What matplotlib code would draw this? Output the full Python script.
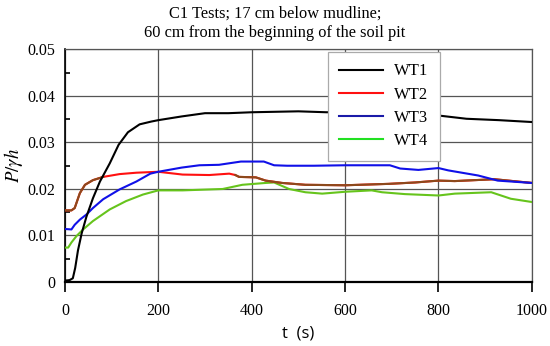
import numpy as np
import matplotlib
matplotlib.use("Agg")
import matplotlib.pyplot as plt
from matplotlib.lines import Line2D
from matplotlib.ticker import MultipleLocator

plt.rcParams["mathtext.fontset"] = "stix"

# data
t1 = [0, 10, 17, 22, 28, 36, 46, 60, 75, 96, 115, 135, 160, 185, 200, 250, 300,
      350, 400, 450, 500, 560, 650, 750, 800, 860, 930, 1000]
wt1 = [0.0003, 0.0004, 0.0008, 0.003, 0.0068, 0.0105, 0.014, 0.018, 0.0216,
       0.0255, 0.0295, 0.0322, 0.0339, 0.0345, 0.0348, 0.0356, 0.0363, 0.0363,
       0.0365, 0.0366, 0.0367, 0.0365, 0.0366, 0.0361, 0.0358, 0.0351, 0.0348, 0.0344]

t2 = [0, 14, 21, 32, 43, 60, 82, 117, 153, 200, 252, 309, 352, 365, 373, 409,
      430, 465, 515, 600, 693, 750, 800, 835, 920, 1000]
wt2 = [0.0154, 0.0154, 0.0159, 0.0191, 0.0209, 0.0219, 0.0226, 0.0232, 0.0235,
       0.0237, 0.0231, 0.0230, 0.0233, 0.0230, 0.0226, 0.0225, 0.0218, 0.0213,
       0.0209, 0.0208, 0.0211, 0.0214, 0.0218, 0.0217, 0.0221, 0.0213]

t3 = [0, 14, 21, 32, 46, 60, 82, 117, 153, 183, 200, 250, 288, 330, 377, 426,
      448, 476, 533, 600, 696, 718, 757, 800, 821, 885, 927, 1000]
wt3 = [0.0114, 0.0113, 0.0123, 0.0134, 0.0145, 0.0159, 0.0178, 0.0199, 0.0216,
       0.0233, 0.0237, 0.0246, 0.0251, 0.0252, 0.0259, 0.0259, 0.0251, 0.0250,
       0.0250, 0.0251, 0.0251, 0.0244, 0.0241, 0.0245, 0.0240, 0.0229, 0.0218, 0.0213]

t4 = [0, 7, 14, 25, 39, 60, 96, 131, 167, 200, 252, 338, 380, 430, 448, 480,
      515, 551, 600, 657, 679, 728, 800, 835, 913, 955, 1000]
wt4 = [0.0074, 0.0074, 0.0085, 0.0099, 0.0113, 0.0131, 0.0156, 0.0174, 0.0188,
       0.0197, 0.0197, 0.0200, 0.0209, 0.0213, 0.0214, 0.0200, 0.0193, 0.0190,
       0.0194, 0.0197, 0.0193, 0.0189, 0.0186, 0.0190, 0.0193, 0.0179, 0.0172]

labels = ["WT1", "WT2", "WT3", "WT4"]
colors = ["black", "#ff1010", "#1010e8", "#66c41c"]
legend_colors = ["black", "#ff1010", "#1a1aa8", "#22e022"]

serif = "Liberation Serif"

fig = plt.figure(figsize=(5.5, 3.46), dpi=100)
ax = fig.add_axes([0.118, 0.185, 0.849, 0.672])

ax.plot(t1, wt1, color=colors[0], lw=1.5, zorder=5)
ax.plot(t4, wt4, color=colors[3], lw=1.5, zorder=3)
ax.plot(t2, wt2, color=colors[1], lw=1.5, zorder=4)
# brownish tint where the red trace looks darker in the reference
t2a = np.array(t2)
w2a = np.array(wt2)
m1 = t2a <= 82
m2 = t2a >= 365
ax.plot(t2a[m1], w2a[m1], color="#8c4a1c", lw=1.5, zorder=4)
ax.plot(t2a[m2], w2a[m2], color="#8c4a1c", lw=1.5, zorder=4)
ax.plot(t3, wt3, color=colors[2], lw=1.5, zorder=4)

ax.set_xlim(0, 1000)
ax.set_ylim(0, 0.05)
ax.xaxis.set_major_locator(MultipleLocator(200))
ax.yaxis.set_minor_locator(MultipleLocator(0.005))
ax.set_yticks([0, 0.01, 0.02, 0.03, 0.04, 0.05])
ax.set_yticklabels(["0", "0.01", "0.02", "0.03", "0.04", "0.05"])
ax.grid(True, which="major", color="#555555", lw=0.9)
ax.tick_params(axis="x", which="major", direction="out", length=7.2, width=1.2,
               labelsize=11.5, pad=8)
ax.tick_params(axis="y", which="major", length=0, labelsize=11.5, pad=7)
ax.tick_params(axis="y", which="minor", direction="in", length=3.5, width=1.2)
for lab in ax.get_xticklabels() + ax.get_yticklabels():
    lab.set_fontfamily(serif)

for s in ["top", "right"]:
    ax.spines[s].set_color("#555555")
    ax.spines[s].set_linewidth(0.9)
ax.spines["bottom"].set_linewidth(1.6)
ax.spines["left"].set_linewidth(1.2)

ax.set_xlabel("t  (s)", fontsize=12, family="Open Sans")
ax.xaxis.set_label_coords(0.5, -0.185)
ax.set_ylabel(r"$P/\gamma h$", fontsize=13.5)
ax.yaxis.set_label_coords(-0.11, 0.5)
ax.yaxis.label.set_verticalalignment("center")

fig.text(0.5, 0.933, "C1 Tests; 17 cm below mudline;\n60 cm from the beginning of the soil pit",
         ha="center", va="center", fontsize=11.8, family=serif, linespacing=1.22)

handles = [Line2D([], [], color=c, lw=1.5) for c in legend_colors]
leg = ax.legend(handles, labels, loc="upper left", bbox_to_anchor=(0.563, 0.99),
                prop={"family": serif, "size": 12}, frameon=True, fancybox=False,
                framealpha=1, edgecolor="#aaaaaa", handlelength=2.6,
                labelspacing=0.43, borderpad=0.7, handletextpad=0.65,
                borderaxespad=0)
leg.get_frame().set_linewidth(0.9)
leg.set_zorder(10)

fig.savefig("out.png", dpi=100)
